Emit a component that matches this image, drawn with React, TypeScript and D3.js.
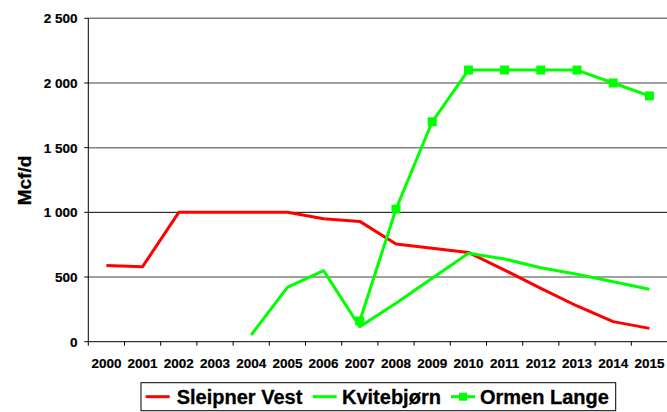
import React from "react";
import * as d3 from "d3";

const years = ["2000","2001","2002","2003","2004","2005","2006","2007","2008","2009","2010","2011","2012","2013","2014","2015"];
const sleipnerVest: (number | null)[] = [590, 580, 1000, 1000, 1000, 1000, 950, 930, 755, 722, 690, 554, 412, 276, 155, 103];
const kvitebjorn: (number | null)[] = [null, null, null, null, 52, 420, 549, 116, 297, 490, 683, 639, 572, 521, 464, 405];
const ormenLange: (number | null)[] = [null, null, null, null, null, null, null, 160, 1025, 1700, 2100, 2100, 2100, 2100, 2000, 1900];
const yTicks = [0, 500, 1000, 1500, 2000, 2500];
const yTickLabels = ["0", "500", "1 000", "1 500", "2 000", "2 500"];
const seriesNames = ["Sleipner Vest", "Kvitebjørn", "Ormen Lange"];

const W = 667, H = 412;
const font = "'Liberation Sans', Arial, sans-serif";

export default function App() {
  const x = d3.scaleBand<string>().domain(years).range([88.3, 667.5]).padding(0);
  const y = d3.scaleLinear().domain([0, 2500]).range([341.7, 18.3]);
  const cx = (i: number) => (x(years[i]) as number) + x.bandwidth() / 2;
  const line = d3
    .line<number | null>()
    .defined((d) => d !== null)
    .x((_, i) => cx(i))
    .y((d) => y(d as number));

  const series = [
    { name: seriesNames[0], data: sleipnerVest, color: "#ff0000", marker: false },
    { name: seriesNames[1], data: kvitebjorn, color: "#00ff00", marker: false },
    { name: seriesNames[2], data: ormenLange, color: "#00ff00", marker: true },
  ];

  const x0 = 88.3;
  const xEnd = 667.5;
  const boundaries = years.map((yr) => x(yr) as number).concat([xEnd]);

  const legendItems = [
    { lx: 145.7, tx: 176.7 },
    { lx: 312.7, tx: 342 },
    { lx: 451, tx: 480 },
  ];

  return (
    <svg width={W} height={H} style={{ position: "absolute", left: 0, top: 0, background: "#fff" }} fontFamily={font}>
      <rect x={0} y={0} width={W} height={H} fill="#fff" />
      {/* gridlines */}
      {yTicks.filter((t) => t > 0).map((t) => (
        <line key={t} x1={x0} x2={xEnd} y1={y(t)} y2={y(t)} stroke={t === 1000 ? "#000" : "#808080"} strokeWidth={t === 1000 ? 1 : 1.5} />
      ))}
      {/* y axis */}
      <line x1={x0} x2={x0} y1={y(2500)} y2={y(0)} stroke="#000" strokeWidth={1} />
      {yTicks.map((t, i) => (
        <g key={t}>
          <line x1={x0 - 4} x2={x0} y1={y(t)} y2={y(t)} stroke="#000" />
          <text x={77.5} y={y(t) + 5} textAnchor="end" fontSize={13.5} fontWeight="bold" fill="#000" stroke="#000" strokeWidth={0.2}>
            {yTickLabels[i]}
          </text>
        </g>
      ))}
      {/* x axis */}
      <line x1={x0} x2={xEnd} y1={y(0)} y2={y(0)} stroke="#000" strokeWidth={1} />
      {boundaries.map((b, i) => (
        <line key={i} x1={b} x2={b} y1={y(0)} y2={y(0) + 4} stroke="#000" />
      ))}
      {years.map((yr, i) => (
        <text key={yr} x={cx(i)} y={368} textAnchor="middle" fontSize={13.5} fontWeight="bold" fill="#000" stroke="#000" strokeWidth={0.2}>
          {yr}
        </text>
      ))}
      {/* y title */}
      <text transform={`translate(31,180.5) rotate(-90)`} textAnchor="middle" fontSize={19} fontWeight="bold" fill="#000" stroke="#000" strokeWidth={0.3}>
        Mcf/d
      </text>
      {/* series */}
      {series.map((s) => (
        <g key={s.name}>
          <path d={line(s.data) || ""} fill="none" stroke={s.color} strokeWidth={3} strokeLinejoin="round" />
          {s.marker &&
            s.data.map((d, i) =>
              d === null ? null : (
                <rect key={i} x={cx(i) - 4.5} y={y(d) - 4.5} width={9} height={9} fill={s.color} />
              )
            )}
        </g>
      ))}
      {/* legend */}
      <rect x={141} y={382.7} width={474.7} height={28} fill="#fff" stroke="#000" strokeWidth={1} />
      {series.map((s, i) => (
        <g key={s.name}>
          <line x1={legendItems[i].lx} x2={legendItems[i].lx + 24} y1={396.7} y2={396.7} stroke={s.color} strokeWidth={3} />
          {s.marker && <rect x={legendItems[i].lx + 12 - 4} y={396.7 - 4} width={8} height={8} fill={s.color} />}
          <text x={legendItems[i].tx} y={404.3} fontSize={20} fontWeight="bold" fill="#000" stroke="#000" strokeWidth={0.3}>
            {s.name}
          </text>
        </g>
      ))}
    </svg>
  );
}
